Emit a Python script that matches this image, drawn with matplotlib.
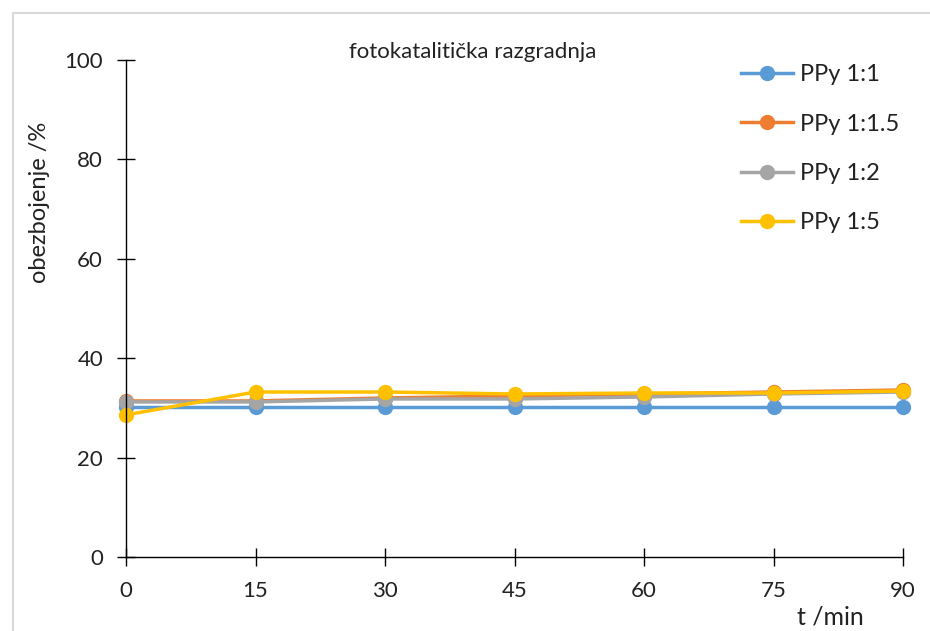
import matplotlib.pyplot as plt
from matplotlib.patches import Rectangle

plt.rcParams['font.family'] = ['Lato', 'DejaVu Sans']

t = [0, 15, 30, 45, 60, 75, 90]
ppy_1_1 = [30.2, 30.2, 30.2, 30.2, 30.2, 30.2, 30.2]
ppy_1_15 = [31.4, 31.4, 32.0, 32.4, 32.8, 33.2, 33.6]
ppy_1_2 = [31.2, 31.2, 31.8, 31.8, 32.2, 32.8, 33.2]
ppy_1_5 = [28.6, 33.2, 33.2, 32.8, 33.0, 33.0, 33.4]

labels = ["PPy 1:1", "PPy 1:1.5", "PPy 1:2", "PPy 1:5"]
colors = ["#5b9bd5", "#ed7d31", "#a5a5a5", "#ffc000"]

fig = plt.figure(figsize=(9.3, 6.31), dpi=100)
fig.patches.append(Rectangle((13 / 930, -0.1), 1.2, 1 - 13 / 631 + 0.1,
                             transform=fig.transFigure, fill=False,
                             edgecolor="#d9d9d9", linewidth=1.5))
ax = fig.add_axes([126 / 930, 1 - 557 / 631, 777 / 930, 497 / 631])

for y, lab, c in zip([ppy_1_1, ppy_1_15, ppy_1_2, ppy_1_5], labels, colors):
    ax.plot(t, y, color=c, lw=2.5, marker="o", ms=10, label=lab, clip_on=False)

ax.set_xlim(0, 90)
ax.set_ylim(0, 100)
ax.set_xticks(t)
ax.set_yticks([0, 20, 40, 60, 80, 100])
ax.tick_params(labelsize=16, length=13, width=1, direction="inout", pad=10,
               labelcolor="#222222")
ax.tick_params(axis="x", pad=11)
for s in ["top", "right"]:
    ax.spines[s].set_visible(False)
for s in ["left", "bottom"]:
    ax.spines[s].set_linewidth(1)

fig.text(473 / 930, 1 - 52 / 631, "fotokatalitička razgradnja", fontsize=16,
         ha="center", va="center", color="#222222")
fig.text(830 / 930, 1 - 617 / 631, "t /min", fontsize=18, ha="center",
         va="center", color="#222222")
fig.text(40 / 930, 1 - 202 / 631, "obezbojenje /%", fontsize=17, rotation=90,
         ha="center", va="center", color="#222222")

leg = ax.legend(loc="upper left", bbox_to_anchor=(720 / 930, 1 - 43 / 631),
                bbox_transform=fig.transFigure, frameon=False, fontsize=17,
                labelspacing=1.2, handlelength=2.2, handletextpad=0.3)
for txt in leg.get_texts():
    txt.set_color("#222222")

fig.savefig("out.png", dpi=100)
